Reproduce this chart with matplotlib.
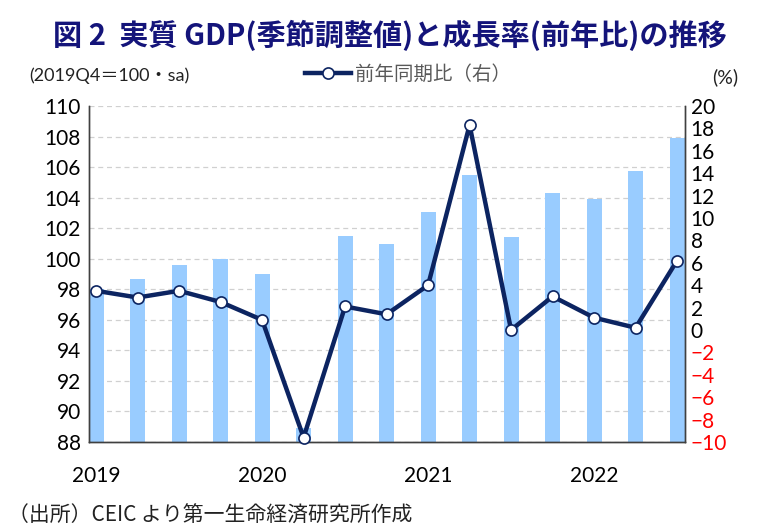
import numpy as np
import matplotlib.pyplot as plt

# data (2019Q1 - 2022Q3)
quarters = ["2019Q1", "2019Q2", "2019Q3", "2019Q4", "2020Q1", "2020Q2", "2020Q3", "2020Q4",
            "2021Q1", "2021Q2", "2021Q3", "2021Q4", "2022Q1", "2022Q2", "2022Q3"]
gdp_index = [98.0, 98.65, 99.6, 100.0, 99.0, 88.9, 101.5, 100.95,
             103.05, 105.5, 101.4, 104.3, 103.9, 105.75, 107.9]
yoy = [3.5, 2.9, 3.5, 2.5, 0.9, -9.6, 2.1, 1.4,
       4.0, 18.3, 0.0, 3.0, 1.1, 0.2, 6.2]
year_labels = ["2019", "2020", "2021", "2022"]

jp = ["Noto Sans CJK JP", "DejaVu Sans"]
num = ["Lato", "Noto Sans CJK JP", "DejaVu Sans"]

fig = plt.figure(figsize=(7.79, 5.31), dpi=100)
ax = fig.add_axes([0.1143, 0.1676, 0.765, 0.6328])
ax2 = ax.twinx()

x = np.arange(len(quarters))
ax.bar(x, gdp_index, width=0.36, bottom=0, color="#99CCFF", zorder=2)
ax.set_ylim(88, 110)
ax.set_yticks(np.arange(88, 111, 2))
ax.set_xlim(-0.17, len(quarters) - 1 + 0.19)
ax.grid(axis="y", linestyle=(0, (4, 3)), color="#D0D0D0", linewidth=0.9, zorder=0)
ax.set_axisbelow(True)

ax2.plot(x, yoy, color="#0C2461", linewidth=3.2, marker="o", markersize=8,
         markerfacecolor="white", markeredgecolor="#0C2461", markeredgewidth=1.2,
         zorder=5, clip_on=False)
ax2.set_ylim(-10, 20)
ax2.set_yticks(np.arange(-10, 21, 2))

# year ticks
ax.set_xticks(x[::4])
ax.set_xticklabels(year_labels, fontfamily=num, fontsize=15)
ax.tick_params(axis="x", length=0, pad=17)
ax.tick_params(axis="y", length=0, pad=6, labelsize=15)
ax2.tick_params(axis="y", length=0, pad=4, labelsize=15)
for t in ax.get_yticklabels():
    t.set_fontfamily(num)
for t, v in zip(ax2.get_yticklabels(), np.arange(-10, 21, 2)):
    t.set_fontfamily(num)
    t.set_color("red" if v < 0 else "black")

for a in (ax, ax2):
    a.spines["top"].set_visible(False)
    for s in ("left", "right", "bottom"):
        a.spines[s].set_color("#404040")
        a.spines[s].set_linewidth(1.0)

# texts
fig.text(0.5, 0.933, "図 2  実質 GDP(季節調整値)と成長率(前年比)の推移", ha="center", va="center",
         fontfamily=jp, fontsize=21, fontweight="bold", color="#14147A")
fig.text(0.038, 0.858, "(2019Q4＝100・sa)", ha="left", va="center",
         fontfamily=num, fontsize=13, color="#222222")
fig.text(0.948, 0.855, "(%)", ha="right", va="center",
         fontfamily=num, fontsize=14, color="#222222")
fig.text(0.01, 0.028, "（出所）CEIC より第一生命経済研究所作成", ha="left", va="center",
         fontfamily=jp, fontsize=15, color="#222222")

# legend
leg = ax2.legend(["前年同期比（右）"], loc="center", bbox_to_anchor=(0.535, 1.095),
                 frameon=False, handlelength=2.4, handletextpad=0.2,
                 prop={"family": jp, "size": 14})
for t in leg.get_texts():
    t.set_color("#595959")

fig.savefig("out.png", dpi=100)
